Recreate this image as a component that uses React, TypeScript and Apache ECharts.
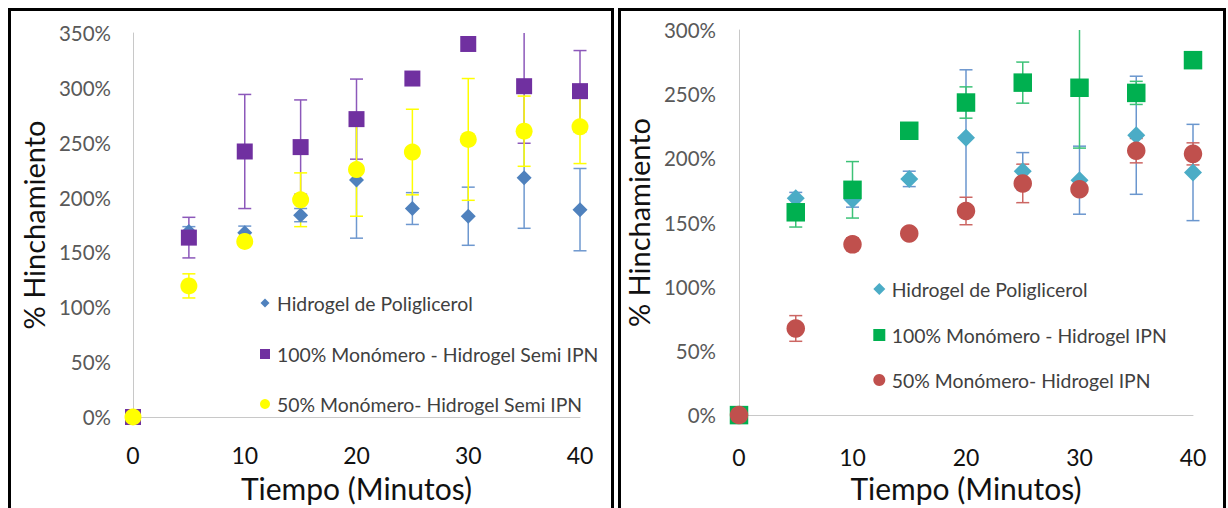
import React, { useEffect, useRef } from "react";
import * as echarts from "echarts";

// ---------- data ----------
const TIME = [0, 5, 10, 15, 20, 25, 30, 35, 40];
const X_TICKS = [0, 10, 20, 30, 40];
const Y_MAX_LEFT = 350;
const Y_MAX_RIGHT = 300;
const Y_STEP = 50;

const POLI = [0, 169, 168, 184, 216, 190, 183, 218, 189];
const POLI_ERR = [0, 4.5, 6, 6, 53, 14.5, 26.5, 46, 37.5];

const SEMI100 = [0, 163.5, 242, 246, 271.5, 308.5, 340, 301.5, 297];
const SEMI100_ERR = [0, 18.5, 52, 43, 36.5, 2, 2, 52, 37];

const SEMI50 = [0, 119.5, 160, 198, 225.5, 241.5, 253, 260.5, 264.5];
const SEMI50_ERR = [0, 11, 3, 24.5, 42.5, 39, 55.5, 32, 33.5];

const IPN100 = [0, 158, 175.5, 221.5, 243.5, 259, 255, 251, 276.5];
const IPN100_ERR = [0, 11.5, 22, 2, 12.2, 16, 47, 9, 2];

const IPN50 = [0, 67.5, 133, 141.5, 159, 180.5, 176, 206, 203.5];
const IPN50_ERR = [0, 10, 5, 3, 10.7, 15, 3, 9.5, 8.6];

const NAME_POLI = "Hidrogel de Poliglicerol";
const NAME_SEMI100 = "100% Monómero - Hidrogel Semi IPN";
const NAME_SEMI50 = "50% Monómero- Hidrogel Semi IPN";
const NAME_IPN100 = "100% Monómero - Hidrogel IPN";
const NAME_IPN50 = "50% Monómero- Hidrogel IPN";
const X_TITLE = "Tiempo (Minutos)";
const Y_TITLE = "% Hinchamiento";

const FONT = "Lato, 'Liberation Sans', sans-serif";

type SeriesDef = {
  name: string;
  values: number[];
  errs: number[];
  color: string;
  errColor: string;
  symbol: string;
  size: number;
  legendSize: number;
  legendTop: number;
  legendPad: number;
};

function errorSeries(s: SeriesDef) {
  return {
    type: "custom",
    name: s.name + " error",
    silent: true,
    data: TIME.map((t, i) => [t, s.values[i], s.errs[i]]),
    renderItem: (params: any, api: any) => {
      const x = api.value(0);
      const v = api.value(1);
      const e = api.value(2);
      if (!e) return null;
      const top = api.coord([x, v + e]);
      const bot = api.coord([x, v - e]);
      const cs = params.coordSys;
      const yMin = cs.y;
      const yMax = cs.y + cs.height;
      const y1 = Math.max(top[1], yMin);
      const y2 = Math.min(bot[1], yMax);
      const st = { stroke: s.errColor, lineWidth: 1.5 };
      const children: any[] = [
        { type: "line", shape: { x1: top[0], y1, x2: top[0], y2 }, style: st },
      ];
      const half = 6.5;
      if (top[1] >= yMin)
        children.push({ type: "line", shape: { x1: top[0] - half, y1: top[1], x2: top[0] + half, y2: top[1] }, style: st });
      if (bot[1] <= yMax)
        children.push({ type: "line", shape: { x1: bot[0] - half, y1: bot[1], x2: bot[0] + half, y2: bot[1] }, style: st });
      return { type: "group", children };
    },
  };
}

function scatterSeries(s: SeriesDef) {
  return {
    type: "scatter",
    name: s.name,
    symbol: s.symbol,
    symbolSize: s.size,
    clip: false,
    data: TIME.map((t, i) => [t, s.values[i]]),
    itemStyle: { color: s.color, opacity: 1 },
    emphasis: { disabled: true },
  };
}

type PanelDef = {
  width: number;
  border: { x: number; width: number };
  grid: { left: number; top: number; width: number; height: number };
  yMax: number;
  yLabelMargin: number;
  xLabelMargin: number;
  xNameGap: number;
  yNameGap: number;
  legendLeftCenter: number;
  series: SeriesDef[];
};

function buildOption(p: PanelDef) {
  const series: any[] = [];
  p.series.forEach((s) => {
    series.push(errorSeries(s));
    series.push(scatterSeries(s));
  });
  return {
    animation: false,
    backgroundColor: "#ffffff",
    textStyle: { fontFamily: FONT },
    graphic: [
      {
        type: "rect",
        silent: true,
        shape: { x: p.border.x, y: 9.5, width: p.border.width, height: 530 },
        style: { fill: "none", stroke: "#000000", lineWidth: 3 },
      },
    ],
    grid: { left: p.grid.left, top: p.grid.top, width: p.grid.width, height: p.grid.height },
    xAxis: {
      type: "value",
      min: X_TICKS[0],
      max: X_TICKS[X_TICKS.length - 1],
      interval: X_TICKS[1] - X_TICKS[0],
      name: X_TITLE,
      nameLocation: "middle",
      nameGap: p.xNameGap,
      nameTextStyle: { fontFamily: FONT, fontSize: 30, color: "#111111" },
      axisLine: { show: true, onZero: false, lineStyle: { color: "#C8C8C8", width: 1 } },
      axisTick: { show: false },
      splitLine: { show: false },
      axisLabel: { fontFamily: FONT, fontSize: 23, color: "#111111", margin: p.xLabelMargin },
    },
    yAxis: {
      type: "value",
      min: 0,
      max: p.yMax,
      interval: Y_STEP,
      name: Y_TITLE,
      nameLocation: "middle",
      nameRotate: 90,
      nameGap: p.yNameGap,
      nameTextStyle: { fontFamily: FONT, fontSize: 29, color: "#111111" },
      axisLine: { show: true, lineStyle: { color: "#C8C8C8", width: 1 } },
      axisTick: { show: false },
      splitLine: { show: false },
      axisLabel: {
        fontFamily: FONT,
        fontSize: 20.5,
        color: "#595959",
        margin: p.yLabelMargin,
        formatter: "{value}%",
      },
    },
    legend: p.series.map((s) => ({
      data: [{ name: s.name, icon: s.symbol }],
      orient: "vertical",
      left: p.legendLeftCenter - s.legendSize / 2,
      top: s.legendTop,
      itemWidth: s.legendSize,
      itemHeight: s.legendSize,
      padding: 0,
      selectedMode: false,
      textStyle: {
        fontFamily: FONT,
        fontSize: 19.4,
        color: "#404040",
        lineHeight: 24,
        padding: [0, 0, 0, s.legendPad],
      },
    })),
    series,
  };
}

const LEFT_PANEL: PanelDef = {
  width: 616,
  border: { x: 9.5, width: 603 },
  grid: { left: 133, top: 33, width: 447, height: 386.7 },
  yMax: Y_MAX_LEFT,
  yLabelMargin: 22,
  xLabelMargin: 26,
  xNameGap: 56,
  yNameGap: 84,
  legendLeftCenter: 265,
  series: [
    { name: NAME_POLI, values: POLI, errs: POLI_ERR, color: "#4F81BD", errColor: "#6E98CF", symbol: "diamond", size: 15, legendSize: 9, legendTop: 291, legendPad: 2.5 },
    { name: NAME_SEMI100, values: SEMI100, errs: SEMI100_ERR, color: "#7030A0", errColor: "#8C58BA", symbol: "rect", size: 16, legendSize: 10, legendTop: 342, legendPad: 2 },
    { name: NAME_SEMI50, values: SEMI50, errs: SEMI50_ERR, color: "#FFFF00", errColor: "#FFFF00", symbol: "circle", size: 17, legendSize: 10, legendTop: 392, legendPad: 2 },
  ],
};

const RIGHT_PANEL: PanelDef = {
  width: 612,
  border: { x: 3.5, width: 605 },
  grid: { left: 119.3, top: 30, width: 457.7, height: 393.3 },
  yMax: Y_MAX_RIGHT,
  yLabelMargin: 23,
  xLabelMargin: 30,
  xNameGap: 56,
  yNameGap: 80,
  legendLeftCenter: 263.3,
  series: [
    { name: NAME_POLI, values: POLI, errs: POLI_ERR, color: "#4BACC6", errColor: "#6A96CE", symbol: "diamond", size: 18, legendSize: 12, legendTop: 277, legendPad: 1.4 },
    { name: NAME_IPN100, values: IPN100, errs: IPN100_ERR, color: "#00B050", errColor: "#3CC277", symbol: "rect", size: 18.5, legendSize: 12, legendTop: 323, legendPad: 1.4 },
    { name: NAME_IPN50, values: IPN50, errs: IPN50_ERR, color: "#C0504D", errColor: "#CC6663", symbol: "circle", size: 18.5, legendSize: 12, legendTop: 368, legendPad: 1.4 },
  ],
};

function Panel({ def, left }: { def: PanelDef; left: number }) {
  const ref = useRef<HTMLDivElement>(null);
  useEffect(() => {
    if (!ref.current) return;
    const chart = echarts.init(ref.current, undefined, { renderer: "svg" });
    chart.setOption(buildOption(def) as any);
    return () => chart.dispose();
  }, [def]);
  return (
    <div
      ref={ref}
      style={{ position: "absolute", left, top: 0, width: def.width, height: 508 }}
    />
  );
}

export default function App() {
  return (
    <div
      style={{
        position: "fixed",
        left: 0,
        top: 0,
        width: 1228,
        height: 508,
        background: "#ffffff",
        overflow: "hidden",
      }}
    >
      <Panel def={LEFT_PANEL} left={0} />
      <Panel def={RIGHT_PANEL} left={616} />
    </div>
  );
}
